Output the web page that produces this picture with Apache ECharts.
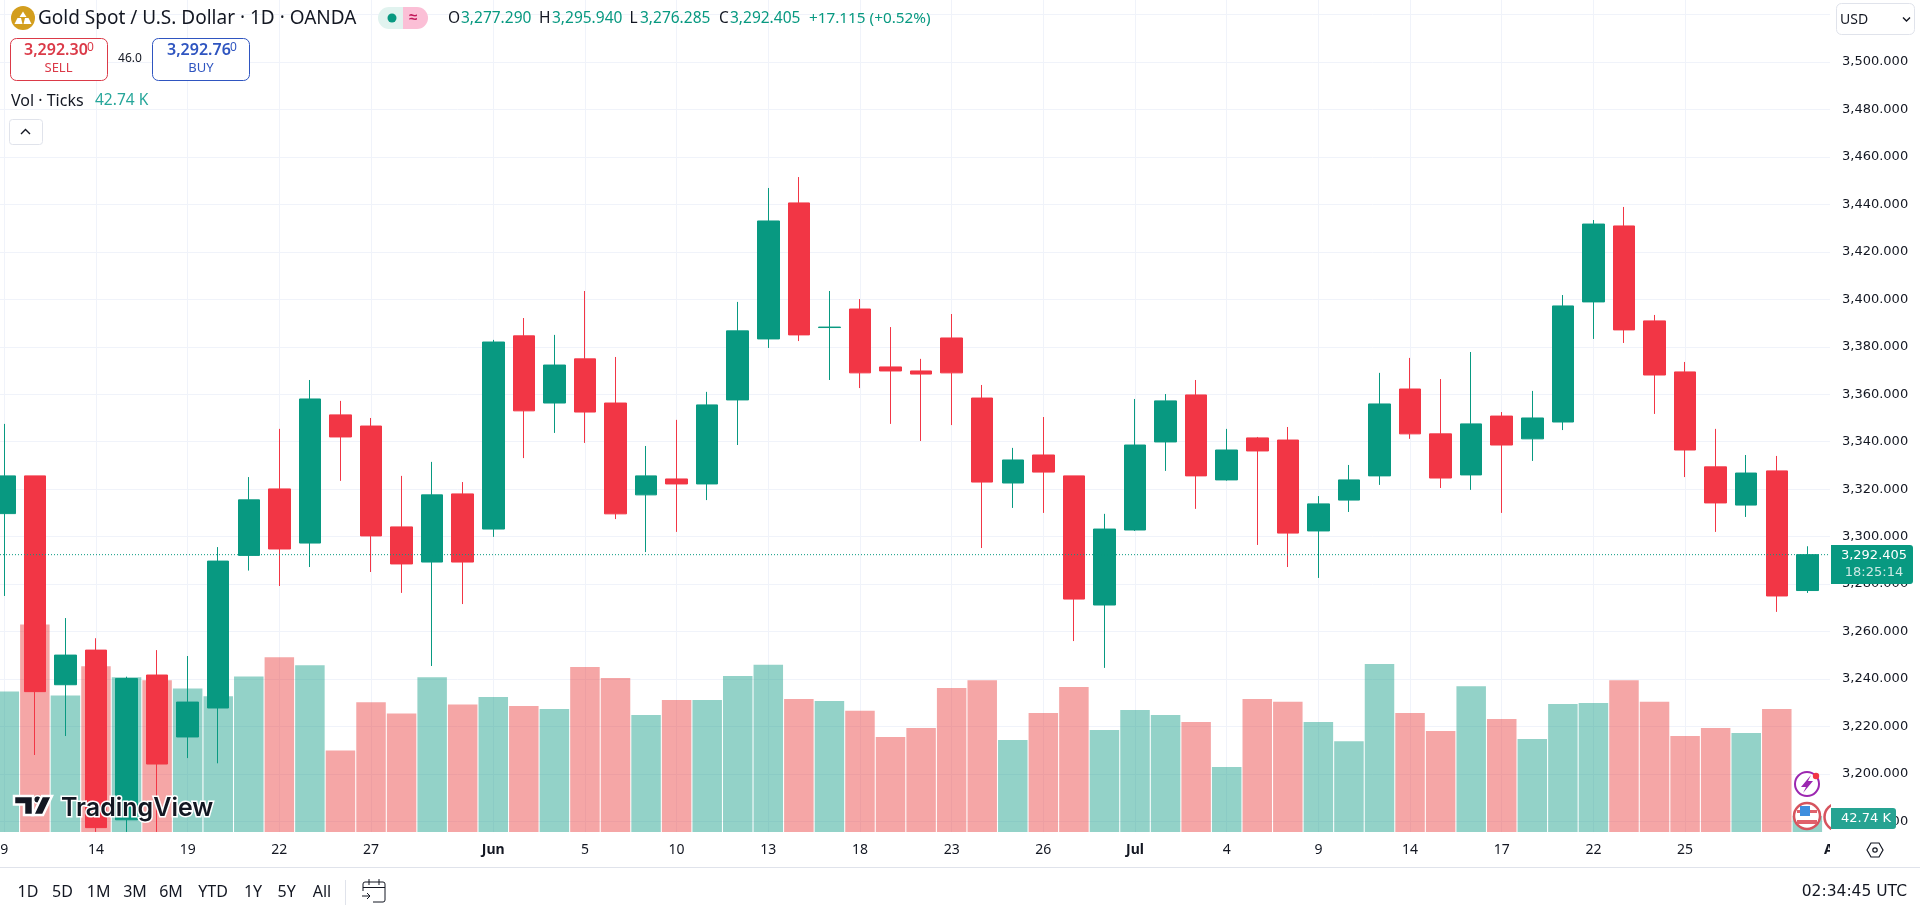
<!DOCTYPE html>
<html>
<head>
<meta charset="utf-8">
<title>Gold Spot / U.S. Dollar</title>
<style>html,body{margin:0;padding:0;background:#fff;overflow:hidden}#c{width:1920px;height:913px}</style>
<script src="https://cdn.jsdelivr.net/npm/echarts@6/dist/echarts.min.js"></script>
</head>
<body>
<div id="c"></div>
<script>
const dates = ['May 9','May 12','May 13','May 14','May 15','May 16','May 19','May 20','May 21','May 22','May 23','May 26','May 27','May 28','May 29','May 30','Jun 2','Jun 3','Jun 4','Jun 5','Jun 6','Jun 9','Jun 10','Jun 11','Jun 12','Jun 13','Jun 16','Jun 17','Jun 18','Jun 19','Jun 20','Jun 23','Jun 24','Jun 25','Jun 26','Jun 27','Jun 30','Jul 1','Jul 2','Jul 3','Jul 4','Jul 7','Jul 8','Jul 9','Jul 10','Jul 11','Jul 14','Jul 15','Jul 16','Jul 17','Jul 18','Jul 21','Jul 22','Jul 23','Jul 24','Jul 25','Jul 28','Jul 29','Jul 30','Jul 31','Aug 1'];
const opens  = [3309.7,3325.6,3237.6,3252.2,3180.7,3241.7,3215.6,3227.8,3292.1,3320.1,3297.3,3351.3,3346.6,3304.1,3289.3,3318,3303.2,3384.6,3356.3,3374.9,3356.3,3317.6,3324.3,3322.2,3357.6,3383.3,3440.6,3388.1,3395.9,3371.5,3369.8,3383.7,3358.4,3322.6,3334.4,3325.6,3271.2,3302.8,3339.9,3359.7,3323.9,3341.6,3340.7,3302.4,3315.4,3325.6,3362.2,3343.3,3326,3350.8,3341.2,3348.3,3398.9,3430.9,3390.9,3369.4,3329.4,3313.3,3327.7,3277.29];
const closes = [3325.6,3234.7,3250.1,3177.4,3240.2,3204.2,3230.3,3289.7,3315.5,3294.8,3358,3342,3300.3,3288.5,3317.6,3289.3,3382,3353,3372.3,3352.5,3309.6,3325.6,3322.2,3355.5,3386.7,3433,3385,3388.3,3369,3369.8,3368.5,3369,3323,3332.3,3327.2,3273.7,3303.2,3338.6,3357.2,3325.6,3336.5,3336.1,3301.5,3313.8,3323.9,3355.9,3343.3,3324.7,3347.5,3338.6,3350,3397.2,3431.7,3387.1,3368.1,3336.5,3314.2,3326.8,3275,3292.405];
const lows   = [3275,3208,3216,3175.6,3175.6,3175.6,3206.7,3204.5,3285.7,3279.2,3287.2,3323.5,3285.1,3276.3,3245.5,3271.6,3299.9,3333.1,3343.7,3339.5,3307.4,3293.5,3302,3315.4,3338.6,3379.5,3382.4,3366,3362.6,3347.5,3340.3,3347,3295.2,3312.1,3310,3256,3244.7,3302.4,3327.7,3311.7,3323.6,3296.5,3287.2,3282.6,3310.4,3321.8,3341.2,3320.5,3319.7,3310,3331.9,3344.9,3383.3,3381.6,3351.7,3325.1,3302,3308.3,3268.3,3276.285];
const highs  = [3347.5,3325.6,3265.7,3257.2,3241,3252.2,3249.7,3295.6,3325.1,3345.4,3366,3357.2,3350,3325.6,3331.5,3323,3382.9,3392.1,3385,3403.5,3375.7,3338.2,3349.2,3361,3398.9,3446.9,3451.5,3403.5,3400.1,3388.3,3374.9,3393.8,3363.9,3337.4,3350.4,3325.6,3309.6,3358,3360.1,3366,3345.4,3342,3346.2,3317.1,3330.2,3369,3375.3,3366.4,3377.8,3352.5,3361.4,3401.8,3433.4,3438.9,3393.4,3373.6,3345.4,3334.4,3334,3295.94];
const volumes = [376,555,365,443,414,406,384,363,416,467,446,218,347,317,414,341,361,337,329,441,412,313,353,353,417,447,356,350,324,254,278,385,406,246,318,388,273,326,313,294,174,356,348,294,243,449,318,270,390,302,249,342,345,406,348,257,278,265,329,42.74];
const tickIndex = [0,3,6,9,12,16,19,22,25,28,31,34,37,40,43,46,49,52,55,60];
const tickText  = ['9','14','19','22','27','Jun','5','10','13','18','23','26','Jul','4','9','14','17','22','25','Aug'];
const priceTicks = [3180,3200,3220,3240,3260,3280,3300,3320,3340,3360,3380,3400,3420,3440,3460,3480,3500,3520];
const lastPrice = 3292.405;
const rangeLabels = ['1D','5D','1M','3M','6M','YTD','1Y','5Y','All'];
const rangeCentres = [28,62.5,98.7,135,171,213,253,286.6,322];

const GREEN='#089981', RED='#F23645', GRID='#f0f3fa', INK='#131722', BUY='#2F55C0', SELL='#DB3A48';
const UI='"Noto Sans",sans-serif', NUM='"DejaVu Sans",sans-serif';
const priceMin=3175.56, priceMax=3526.1;
const volMax=2225;

const candleData = opens.map((o,i)=>[o,closes[i],lows[i],highs[i]]);
const volData = volumes.map((v,i)=>({value:v,itemStyle:{color:closes[i]>=opens[i]?'rgba(8,153,129,.44)':'rgba(232,53,53,.44)'}}));
const isTick = i=>tickIndex.indexOf(i)>=0;

const g=[];
const Z=100;
function txt(x,y,text,fill,size,o){o=o||{};g.push({type:'text',x:x,y:y,z:o.z||Z,silent:true,style:{text:text,fill:fill,font:(o.weight||'400')+' '+size+'px '+(o.family||UI),align:o.align||'left',verticalAlign:'middle',stroke:o.stroke,lineWidth:o.lw||0}});}
function rect(x,y,w,h,o){g.push({type:'rect',z:o.z||Z,silent:true,shape:{x:x,y:y,width:w,height:h,r:o.r||0},style:{fill:o.fill||'transparent',stroke:o.stroke,lineWidth:o.lw||0}});}
function circ(x,y,r,o){g.push({type:'circle',z:o.z||Z,silent:true,shape:{cx:x,cy:y,r:r},style:{fill:o.fill||'transparent',stroke:o.stroke,lineWidth:o.lw||0}});}
function poly(p,fill,z,stroke,lw){g.push({type:'polygon',z:z||Z,silent:true,shape:{points:p},style:{fill:fill,stroke:stroke,lineWidth:lw||0}});}
function pl(p,stroke,lw,z){g.push({type:'polyline',z:z||Z,silent:true,shape:{points:p},style:{stroke:stroke,lineWidth:lw,fill:'none'}});}

// clip of the Aug label at the pane edge
rect(1830,832.5,90,35,{fill:'#fff',z:20});
pl([[0,867.5],[1920,867.5]],'#e0e3eb',1,21);
// hexagon settings button
poly([[1867,850],[1871,843],[1879,843],[1883,850],[1879,857],[1871,857]],'#fff',22,'#131722',1.2);
circ(1875,850,2.2,{stroke:'#131722',lw:1.2,z:22});
// header
circ(23,18,12,{fill:'#D39E1E'});
poly([[23,11.5],[26.5,17],[19.5,17]],'#fff');
poly([[17.5,18],[21,18],[22.5,24],[14.5,24]],'#fff');
poly([[25,18],[28.5,18],[31.5,24],[23.5,24]],'#fff');
txt(38,19,'Gold Spot / U.S. Dollar · 1D · OANDA',INK,19);
rect(378,7,25,22,{fill:'#E1F3EF',r:[11,0,0,11]});
rect(403,7,25,22,{fill:'#FBBFD6',r:[0,11,11,0]});
circ(392,18,4.5,{fill:GREEN});
txt(413,18,'≈','#C2185B',15,{align:'center',weight:'700'});
const ohlc=[[448,461,'O','3,277.290'],[539,552,'H','3,295.940'],[629.5,640,'L','3,276.285'],[719,730,'C','3,292.405']];
ohlc.forEach(a=>{txt(a[0],19,a[2],INK,15.5);txt(a[1],19,a[3],GREEN,15.5);});
txt(809,19,'+17.115 (+0.52%)',GREEN,15.3);
rect(10.5,38.5,97,42,{stroke:SELL,lw:1,r:6,fill:'#fff'});
rect(152.5,38.5,97,42,{stroke:BUY,lw:1,r:6,fill:'#fff'});
txt(24,50,'3,292.30',SELL,16,{weight:'600'});
txt(87,48,'0',SELL,12);
txt(58.5,68,'SELL',SELL,13,{align:'center'});
txt(130,59,'46.0',INK,12,{align:'center'});
txt(167,50,'3,292.76',BUY,16,{weight:'600'});
txt(230,48,'0',BUY,12);
txt(201,68,'BUY',BUY,13,{align:'center'});
txt(11,101,'Vol · Ticks',INK,16);
txt(95,101,'42.74 K','#26A69A',15.5);
rect(9.5,119.5,33,25,{stroke:'#e0e3eb',lw:1,r:3,fill:'#fff'});
pl([[21,134],[25.5,129.5],[30,134]],INK,1.4);
// USD box
rect(1836.5,3.5,78,31,{stroke:'#e0e3eb',lw:1,r:5,fill:'#fff',z:110});
txt(1840,20,'USD',INK,14,{z:111});
pl([[1903,17.5],[1906.5,21],[1910,17.5]],INK,1.4,111);
// price tags
rect(1831,545,82,39,{fill:GREEN,r:[0,3,3,0],z:110});
txt(1874,556,'3,292.405','#fff',13,{align:'center',family:NUM,z:111});
txt(1874,573,'18:25:14','#cdeae5',13,{align:'center',family:NUM,z:111});
rect(1831,808,65,21,{fill:'#26A392',r:[0,3,3,0],z:110});
txt(1866,818.5,'42.74 K','#fff',13,{align:'center',family:NUM,z:111});
// marker icons
circ(1807,784,12,{stroke:'#9C27B0',lw:2,fill:'#fff'});
poly([[1811,775],[1801,787],[1806,787],[1803,793],[1813,781],[1808,781]],'#9C27B0');
circ(1816,776,3.2,{fill:'#F23645'});
circ(1807,816,13,{stroke:'#D6545E',lw:2.5,fill:'#fff'});
rect(1797,810,20,3,{fill:'#E0616B'});rect(1797,820,20,4,{fill:'#E0616B'});
rect(1800,806,10,10,{fill:'#3E8EDE'});
circ(1838,817,13.5,{stroke:'#D6545E',lw:2.5,fill:'#fff',z:99});
rect(1831,800,89,8,{fill:'#fff',z:100});
rect(1831,829,89,4,{fill:'#fff',z:100});
// watermark
poly([[14,796],[33,796],[33,815],[24,815],[24,804.5],[14,804.5]],'#131722',30,'#fff',2.5);
circ(37.5,799.5,3.8,{fill:'#131722',stroke:'#fff',lw:1.5,z:30});
poly([[42,796],[52,796],[43,815],[33,815]],'#131722',30,'#fff',2.5);
txt(61,808,'TradingView','#131722',25,{family:'Inter,sans-serif',weight:'600',stroke:'#fff',lw:3,z:30});
// bottom toolbar
rangeLabels.forEach((t,i)=>txt(rangeCentres[i],892,t,INK,16,{align:'center'}));
pl([[345.5,880],[345.5,905]],'#e0e3eb',1);
rect(363,882,22,20,{stroke:'#131722',lw:1,r:2,fill:'#fff'});
pl([[363,887.5],[385,887.5]],'#131722',1);
pl([[369,879],[369,885]],'#131722',1);pl([[379,879],[379,885]],'#131722',1);
rect(361,891,12,14,{fill:'#fff'});
pl([[362,896],[370,896]],'#131722',1);pl([[367,893],[370,896],[367,899]],'#131722',1);
txt(1907,892,'02:34:45 UTC',INK,15.5,{align:'right',family:NUM});

const chart=echarts.init(document.getElementById('c'),null,{renderer:'canvas'});
chart.setOption({
  animation:false,
  backgroundColor:'#fff',
  grid:[{left:0,width:1830,top:0,height:832,outerBoundsMode:'none'},{left:4.3,width:60*30.56,top:0,height:832,outerBoundsMode:'none'}],
  xAxis:[
    {gridIndex:0,type:'value',min:0,max:1,show:false},
    {gridIndex:1,type:'category',data:dates,boundaryGap:false,
     axisLine:{show:false},axisTick:{show:false},
     splitLine:{show:true,interval:(i)=>isTick(i)&&i<60,lineStyle:{color:GRID,width:1}},
     axisLabel:{interval:(i)=>isTick(i),margin:11,hideOverlap:false,showMinLabel:true,showMaxLabel:true,color:INK,fontSize:14,fontFamily:UI,
       formatter:(v,i)=>{const t=tickText[tickIndex.indexOf(i)];return t&&/[A-Za-z]/.test(t)?'{b|'+t+'}':t;},
       rich:{b:{fontWeight:700,fontSize:14,fontFamily:UI,color:INK}}}}
  ],
  yAxis:[
    {gridIndex:0,type:'value',position:'right',min:priceMin,max:priceMax,
     axisLine:{show:false},axisTick:{show:false,customValues:priceTicks},
     splitLine:{show:true,lineStyle:{color:GRID,width:1}},
     axisLabel:{customValues:priceTicks,margin:12,color:INK,fontSize:13,fontFamily:NUM,
       formatter:v=>v.toLocaleString('en-US',{minimumFractionDigits:3,maximumFractionDigits:3})}},
    {gridIndex:1,type:'value',min:priceMin,max:priceMax,show:false},
    {gridIndex:1,type:'value',min:0,max:volMax,show:false}
  ],
  series:[
    {type:'bar',name:'Vol',xAxisIndex:1,yAxisIndex:2,data:volData,barWidth:29.5,z:1,clip:false,silent:true},
    {type:'candlestick',name:'Gold',xAxisIndex:1,yAxisIndex:1,data:candleData,barWidth:22,z:2,clip:false,silent:true,
     itemStyle:{color:GREEN,color0:RED,borderColor:GREEN,borderColor0:RED,borderWidth:1}},
    {type:'line',name:'Last',xAxisIndex:0,yAxisIndex:0,data:[[0,lastPrice],[1,lastPrice]],symbol:'none',z:3,silent:true,
     lineStyle:{color:GREEN,width:1,type:[1,2]}}
  ],
  graphic:{elements:g}
});
</script>
</body>
</html>
